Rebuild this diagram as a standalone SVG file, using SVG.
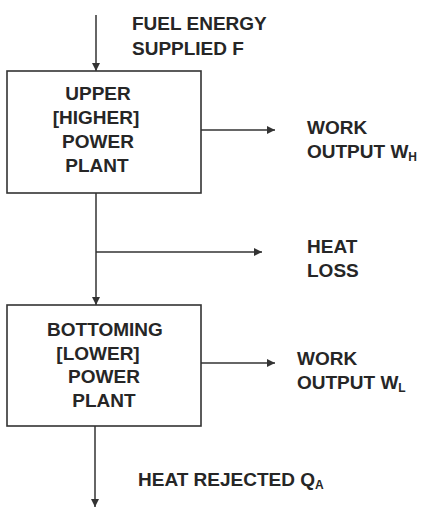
<svg xmlns="http://www.w3.org/2000/svg" width="423" height="508" viewBox="0 0 423 508">
<style>
text{font-family:"Liberation Sans",Arial,sans-serif;font-weight:bold;font-size:19px;fill:#262626}
.c{text-anchor:middle}
.sub{font-size:12px}
.box{fill:#fff;stroke:#333;stroke-width:1.6}
.ln{stroke:#333;stroke-width:1.5;fill:none}
</style>
<defs>
<marker id="ah" viewBox="0 0 10 10" refX="10" refY="5" markerWidth="8" markerHeight="8" markerUnits="userSpaceOnUse" orient="auto">
<path d="M0,0L10,5L0,10z" fill="#333"/>
</marker>
</defs>
<rect width="423" height="508" fill="#fff"/>
<g id="connectors">
<line class="ln" x1="96" y1="15" x2="96" y2="71" marker-end="url(#ah)"/>
<line class="ln" x1="201" y1="130" x2="275" y2="130" marker-end="url(#ah)"/>
<line class="ln" x1="96" y1="193" x2="96" y2="305" marker-end="url(#ah)"/>
<line class="ln" x1="96" y1="252" x2="262" y2="252" marker-end="url(#ah)"/>
<line class="ln" x1="201" y1="363" x2="275" y2="363" marker-end="url(#ah)"/>
<line class="ln" x1="95" y1="426" x2="95" y2="507" marker-end="url(#ah)"/>
</g>
<g id="upper">
<rect class="box" x="7" y="71" width="194" height="122"/>
<text class="c" x="98" y="100">UPPER</text>
<text class="c" x="96" y="124">[HIGHER]</text>
<text class="c" x="98" y="148">POWER</text>
<text class="c" x="97" y="172">PLANT</text>
</g>
<g id="bottoming">
<rect class="box" x="7" y="305" width="194" height="121"/>
<text class="c" x="105" y="336">BOTTOMING</text>
<text class="c" x="98" y="360">[LOWER]</text>
<text class="c" x="104" y="383">POWER</text>
<text class="c" x="104" y="407">PLANT</text>
</g>
<g id="fuel">
<text x="132" y="30">FUEL ENERGY</text>
<text x="132" y="55">SUPPLIED F</text>
</g>
<g id="work-h">
<text x="307" y="134">WORK</text>
<text x="307" y="158">OUTPUT W<tspan class="sub" dy="3">H</tspan></text>
</g>
<g id="heat-loss">
<text x="307" y="253">HEAT</text>
<text x="307" y="277">LOSS</text>
</g>
<g id="work-l">
<text x="297" y="365">WORK</text>
<text x="297" y="389">OUTPUT W<tspan class="sub" dy="3">L</tspan></text>
</g>
<g id="heat-rejected">
<text x="138" y="486">HEAT REJECTED Q<tspan class="sub" dy="3">A</tspan></text>
</g>
</svg>
